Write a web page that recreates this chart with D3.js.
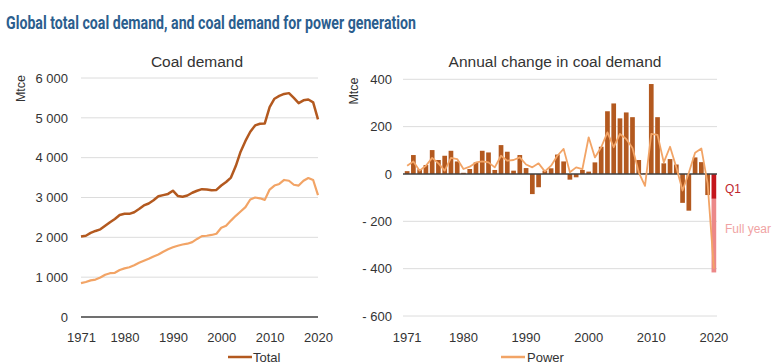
<!DOCTYPE html>
<html>
<head>
<meta charset="utf-8">
<script src="https://cdn.jsdelivr.net/npm/d3@7"></script>
<style>
  html, body { margin: 0; padding: 0; background: #fff; }
  svg { display: block; font-family: "Liberation Sans", Arial, sans-serif; }
</style>
</head>
<body>
<svg id="chart" width="773" height="364"></svg>
<script>
// ---- Data (Mtce) ----
const years = d3.range(1971, 2021);

// Global total coal demand, 1971-2020
const totalDemand = [
  2020, 2040, 2110, 2160, 2200, 2290, 2380, 2460, 2560, 2590,
  2590, 2630, 2710, 2800, 2850, 2930, 3030, 3060, 3090, 3170,
  3040, 3020, 3050, 3120, 3170, 3210, 3200, 3180, 3190, 3300,
  3390, 3500, 3790, 4150, 4420, 4650, 4810, 4850, 4860, 5270,
  5480, 5550, 5600, 5620, 5500, 5370, 5440, 5460, 5390, 4960
];

// Coal demand for power generation, 1971-2020
const powerDemand = [
  850, 880, 920, 940, 990, 1060, 1100, 1110, 1180, 1220,
  1250, 1300, 1360, 1410, 1460, 1520, 1570, 1640, 1700, 1750,
  1790, 1820, 1840, 1880, 1960, 2030, 2040, 2060, 2090, 2240,
  2290, 2420, 2540, 2650, 2760, 2950, 3000, 2980, 2940, 3200,
  3300, 3340, 3440, 3420, 3320, 3300, 3420, 3490, 3440, 3060
];

// Annual change in total coal demand, 1971-2019
const totalChange = [
  12, 80, 20, 38, 101, 59, 77, 98, 53, 5,
  21, 49, 98, 91, 17, 122, 94, 14, 80, 25,
  -85, -56, 14, 24, 82, 53, -24, -14, 17, 10,
  49, 115, 265, 298, 235, 260, 240, 59, 3, 380,
  240, 45, 63, 40, -122, -155, 70, 50, -89
];

// 2020: first-quarter change and full-year change
const q1Change2020 = -105;
const fullYearChange2020 = -416;

// Annual change in coal demand for power, 1971-2020
const powerChange = [
  35, 53, 14, 35, 68, 45, 14, 68, 63, 21,
  31, 49, 53, 49, 28, 77, 56, 59, 70, 40,
  28, 45, 11, 35, 77, 106, 7, 28, 21, 155,
  70, 113, 176, 113, 169, 148, 110, 7, -50, 169,
  165, 49, 115, 28, -70, 5, 90, 108, -40, -400
];

const demandTicks = [0, 1000, 2000, 3000, 4000, 5000, 6000];
const changeTicks = [-600, -400, -200, 0, 200, 400];
const yearTicks = [1971, 1980, 1990, 2000, 2010, 2020];

// ---- Styles ----
const COL = {
  total: "#b3591f",
  power: "#f2a466",
  q1: "#c4161c",
  full: "#ec8888",
  q1Text: "#c0262c",
  fullText: "#f0a3a3",
  grid: "#dcdcdc",
  axis: "#404040",
  text: "#333333",
  title: "#2b5e8e"
};

const svg = d3.select("#chart");
const spaceFmt = d3.formatLocale({ decimal: ".", thousands: "\u00a0", grouping: [3], currency: ["", ""] }).format(",d");

// ---- Title ----
svg.append("text")
  .attr("x", 6).attr("y", 29)
  .attr("font-family", "Roboto, 'Open Sans', sans-serif")
  .attr("font-weight", "bold")
  .attr("font-size", 19)
  .attr("fill", COL.title)
  .attr("textLength", 410)
  .attr("lengthAdjust", "spacingAndGlyphs")
  .text("Global total coal demand, and coal demand for power generation");

function styleAxis(g, size) {
  g.select(".domain").remove();
  g.selectAll("text").attr("font-size", size).attr("fill", COL.text)
    .attr("font-family", "'Liberation Sans', Arial, sans-serif");
}

// ================= Left panel: Coal demand =================
const xL = d3.scaleLinear().domain([1971, 2020]).range([81, 318]);
const yL = d3.scaleLinear().domain([0, 6000]).range([317, 78]);
const left = svg.append("g");

left.append("text")
  .attr("x", 197).attr("y", 66.5).attr("text-anchor", "middle")
  .attr("font-size", 15.5).attr("fill", COL.text)
  .text("Coal demand");

left.append("text")
  .attr("transform", "translate(25,88.5) rotate(-90)")
  .attr("text-anchor", "middle").attr("font-size", 12.5).attr("fill", COL.text)
  .text("Mtce");

left.append("g").selectAll("line")
  .data(demandTicks.filter(d => d !== 0))
  .join("line")
  .attr("x1", 81).attr("x2", 318)
  .attr("y1", d => yL(d)).attr("y2", d => yL(d))
  .attr("stroke", COL.grid).attr("stroke-width", 1);

left.append("line")
  .attr("x1", 81).attr("x2", 318)
  .attr("y1", yL(0)).attr("y2", yL(0))
  .attr("stroke", COL.axis).attr("stroke-width", 1.3);

left.append("g")
  .attr("transform", "translate(81,0)")
  .call(d3.axisLeft(yL).tickValues(demandTicks).tickSize(0).tickPadding(13).tickFormat(spaceFmt))
  .call(g => styleAxis(g, 13));

left.append("g")
  .attr("transform", `translate(0,${yL(0)})`)
  .call(d3.axisBottom(xL).tickValues(yearTicks).tickSize(0).tickPadding(16).tickFormat(d3.format("d")))
  .call(g => styleAxis(g, 13));

const lineL = d3.line().x((d, i) => xL(years[i])).y(d => yL(d));

left.append("path").datum(powerDemand)
  .attr("d", lineL).attr("fill", "none")
  .attr("stroke", COL.power).attr("stroke-width", 2.2).attr("stroke-linejoin", "round");

left.append("path").datum(totalDemand)
  .attr("d", lineL).attr("fill", "none")
  .attr("stroke", COL.total).attr("stroke-width", 2.5).attr("stroke-linejoin", "round");

// legend: Total
left.append("line").attr("x1", 228).attr("x2", 252).attr("y1", 357).attr("y2", 357)
  .attr("stroke", COL.total).attr("stroke-width", 2.5);
left.append("text").attr("x", 253).attr("y", 361.5)
  .attr("font-size", 13).attr("fill", COL.text).text("Total");

// ================= Right panel: Annual change =================
const xR = d3.scaleBand().domain(years).range([404, 717]).paddingInner(0.25).paddingOuter(0.125);
const yR = d3.scaleLinear().domain([-600, 400]).range([316, 79.3]);
const right = svg.append("g");
const bw = xR.bandwidth();

right.append("text")
  .attr("x", 555).attr("y", 66.5).attr("text-anchor", "middle")
  .attr("font-size", 15.5).attr("fill", COL.text)
  .text("Annual change in coal demand");

right.append("text")
  .attr("transform", "translate(358,91) rotate(-90)")
  .attr("text-anchor", "middle").attr("font-size", 12.5).attr("fill", COL.text)
  .text("Mtce");

right.append("g").selectAll("line")
  .data(changeTicks.filter(d => d !== 0))
  .join("line")
  .attr("x1", 403).attr("x2", 717)
  .attr("y1", d => yR(d)).attr("y2", d => yR(d))
  .attr("stroke", COL.grid).attr("stroke-width", 1);

right.append("g")
  .attr("transform", "translate(403,0)")
  .call(d3.axisLeft(yR).tickValues(changeTicks).tickSize(0).tickPadding(11)
    .tickFormat(d => d < 0 ? "-\u00a0" + Math.abs(d) : String(d)))
  .call(g => styleAxis(g, 13));

right.append("g")
  .attr("transform", `translate(0,${yR(-600)})`)
  .call(d3.axisBottom(xR).tickValues(yearTicks).tickSize(0).tickPadding(17).tickFormat(d3.format("d")))
  .call(g => styleAxis(g, 13));

// bars 1971-2019
right.append("g").selectAll("rect")
  .data(totalChange)
  .join("rect")
  .attr("x", (d, i) => xR(years[i]))
  .attr("width", bw)
  .attr("y", d => yR(Math.max(0, d)))
  .attr("height", d => Math.abs(yR(d) - yR(0)))
  .attr("fill", COL.total);

// 2020: Q1 and rest of full year
right.append("rect")
  .attr("x", xR(2020)).attr("width", bw)
  .attr("y", yR(0)).attr("height", yR(q1Change2020) - yR(0))
  .attr("fill", COL.q1);
right.append("rect")
  .attr("x", xR(2020)).attr("width", bw)
  .attr("y", yR(q1Change2020)).attr("height", yR(fullYearChange2020) - yR(q1Change2020))
  .attr("fill", COL.full);

right.append("line")
  .attr("x1", 403).attr("x2", 717)
  .attr("y1", yR(0)).attr("y2", yR(0))
  .attr("stroke", COL.axis).attr("stroke-width", 1.3);

const lineR = d3.line().x((d, i) => xR(years[i]) + bw / 2).y(d => yR(d));
right.append("path").datum(powerChange)
  .attr("d", lineR).attr("fill", "none")
  .attr("stroke", COL.power).attr("stroke-width", 1.8).attr("stroke-linejoin", "round");

right.append("text").attr("x", 725).attr("y", 193)
  .attr("font-size", 12).attr("fill", COL.q1Text).text("Q1");
right.append("text").attr("x", 725).attr("y", 233)
  .attr("font-size", 12).attr("fill", COL.fullText).text("Full year");

// legend: Power
right.append("line").attr("x1", 501).attr("x2", 525).attr("y1", 357).attr("y2", 357)
  .attr("stroke", COL.power).attr("stroke-width", 2.5);
right.append("text").attr("x", 527).attr("y", 361.5)
  .attr("font-size", 13).attr("fill", COL.text).text("Power");
</script>
</body>
</html>
